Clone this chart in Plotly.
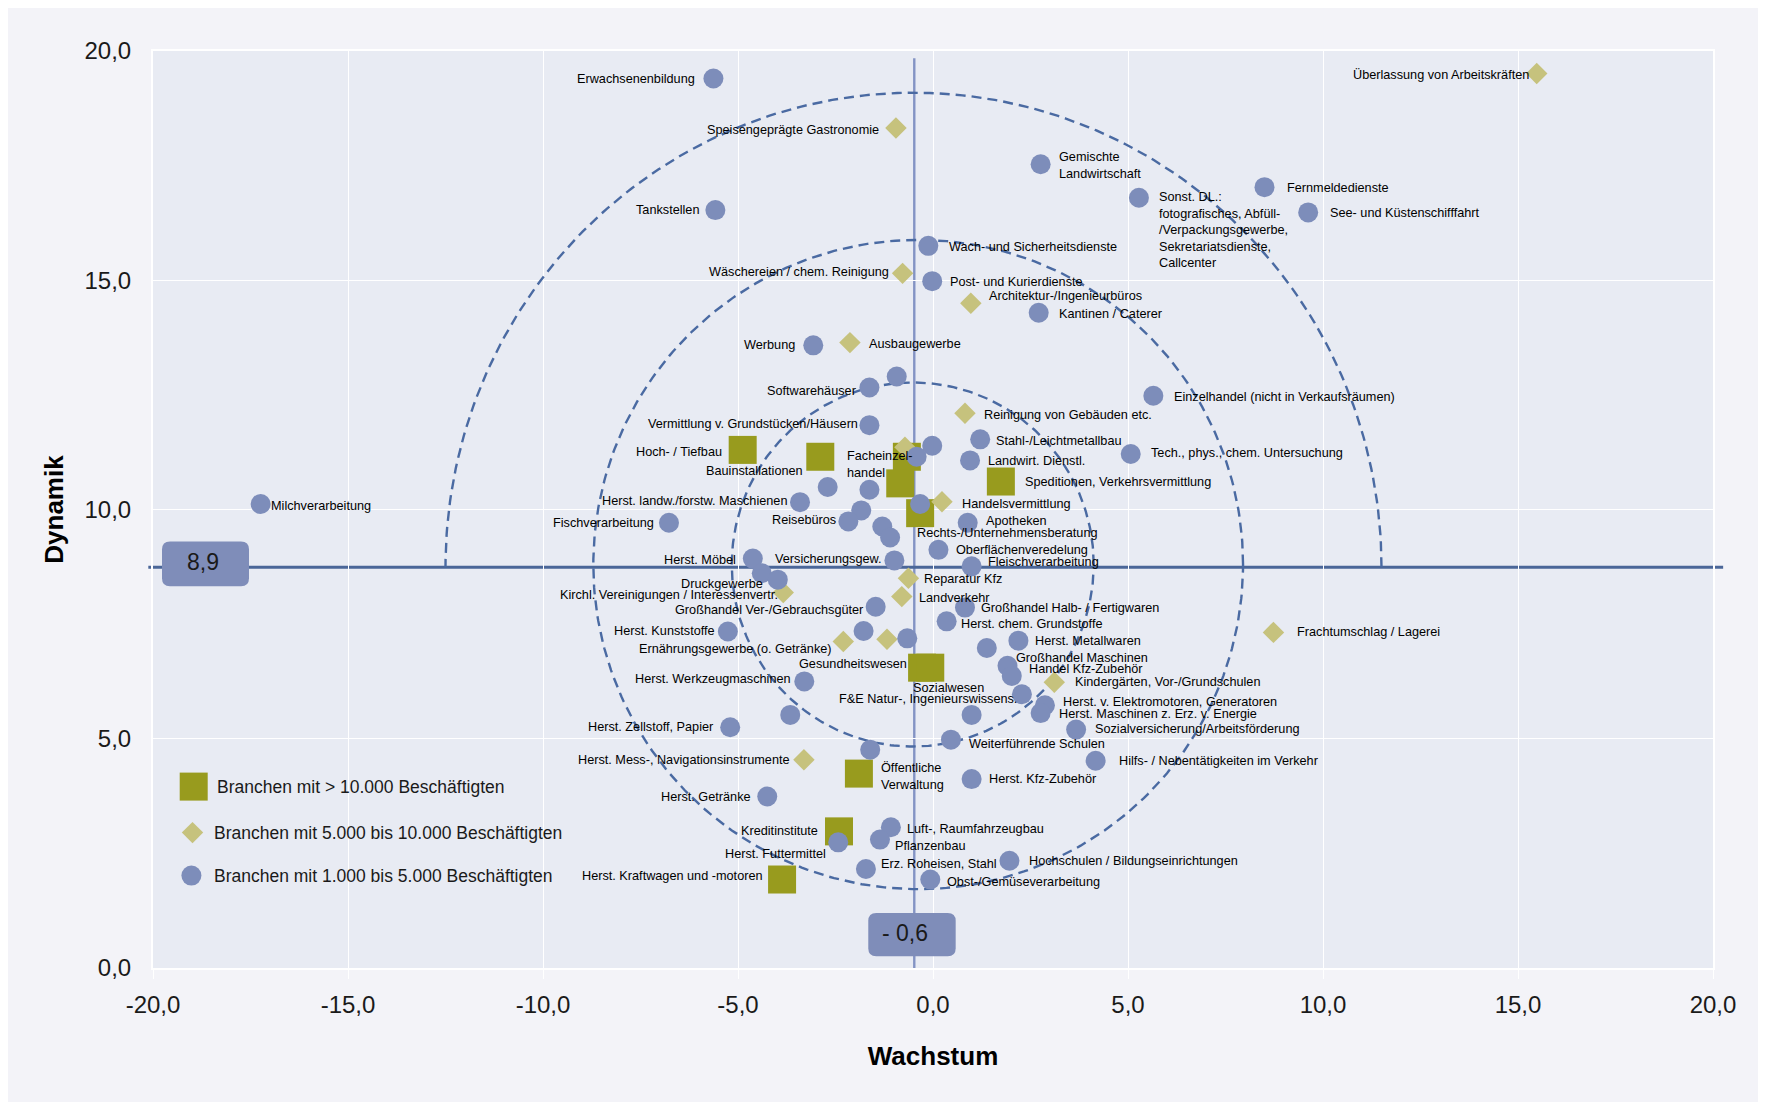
import numpy as np
import plotly.graph_objects as go

# ---------------- data ----------------
# Branchen mit > 10.000 Beschäftigten
sq_names = ["Hoch- / Tiefbau", "Bauinstallationen", "Facheinzel-\nhandel", "", "",
            "Speditionen, Verkehrsvermittlung", "Gesundheitswesen", "Sozialwesen",
            "Öffentliche\nVerwaltung", "Kreditinstitute", "Herst. Kraftwagen und -motoren"]
sq_x = [-4.88, -2.89, -0.67, -0.84, -0.33, 1.74, -0.28, -0.07, -1.90, -2.41, -3.87]
sq_y = [11.30, 11.15, 11.15, 10.57, 9.92, 10.61, 6.55, 6.55, 4.24, 2.98, 1.93]

# Branchen mit 5.000 bis 10.000 Beschäftigten
dm_names = ["Überlassung von Arbeitskräften", "Speisengeprägte Gastronomie",
            "Wäschereien / chem. Reinigung", "Architektur-/Ingenieurbüros", "Ausbaugewerbe",
            "Reinigung von Gebäuden etc.", "", "Handelsvermittlung", "Reparatur Kfz",
            "Kirchl. Vereinigungen / Interessenvertr.", "Landverkehr",
            "Ernährungsgewerbe (o. Getränke)", "", "Frachtumschlag / Lagerei",
            "Kindergärten, Vor-/Grundschulen", "Herst. Mess-, Navigationsinstrumente"]
dm_x = [15.48, -0.95, -0.78, 0.97, -2.13, 0.82, -0.72, 0.23, -0.63, -3.84, -0.80,
        -2.30, -1.18, 8.73, 3.11, -3.31]
dm_y = [19.51, 18.32, 15.15, 14.50, 13.64, 12.10, 11.36, 10.17, 8.50, 8.19, 8.10,
        7.12, 7.17, 7.32, 6.23, 4.54]

# Branchen mit 1.000 bis 5.000 Beschäftigten
ci_names = ["Erwachsenenbildung", "Tankstellen", "Gemischte\nLandwirtschaft",
            "Sonst. DL.:\nfotografisches, Abfüll-\n/Verpackungsgewerbe,\nSekretariatsdienste,\nCallcenter",
            "Fernmeldedienste", "See- und Küstenschifffahrt", "Wach- und Sicherheitsdienste",
            "Post- und Kurierdienste", "Kantinen / Caterer", "Werbung", "", "Softwarehäuser",
            "Einzelhandel (nicht in Verkaufsräumen)", "Vermittlung v. Grundstücken/Häusern",
            "Stahl-/Leichtmetallbau", "Landwirt. Dienstl.", "Tech., phys., chem. Untersuchung",
            "", "", "", "", "Herst. landw./forstw. Maschienen", "Milchverarbeitung", "", "",
            "Reisebüros", "Fischverarbeitung", "", "Rechts-/Unternehmensberatung", "Apotheken",
            "Oberflächenveredelung", "Fleischverarbeitung", "Versicherungsgew.", "Herst. Möbel",
            "", "Druckgewerbe", "Großhandel Ver-/Gebrauchsgüter", "Großhandel Halb- / Fertigwaren",
            "Herst. chem. Grundstoffe", "Herst. Kunststoffe", "", "", "Herst. Metallwaren", "",
            "Großhandel Maschinen", "Handel Kfz-Zubehör", "Herst. Werkzeugmaschinen",
            "F&E Natur-, Ingenieurswissens.", "Herst. v. Elektromotoren, Generatoren",
            "Herst. Maschinen z. Erz. v. Energie", "", "", "Herst. Zellstoff, Papier",
            "Sozialversicherung/Arbeitsförderung", "Weiterführende Schulen", "",
            "Hilfs- / Nebentätigkeiten im Verkehr", "Herst. Kfz-Zubehör", "Herst. Getränke",
            "Luft-, Raumfahrzeugbau", "Pflanzenbau", "Herst. Futtermittel", "Erz. Roheisen, Stahl",
            "Hochschulen / Bildungseinrichtungen", "Obst-/Gemüseverarbeitung"]
ci_x = [-5.63, -5.58, 2.76, 5.28, 8.50, 9.62, -0.12, -0.02, 2.71, -3.07, -0.93, -1.63,
        5.65, -1.63, 1.21, 0.95, 5.07, -0.02, -0.42, -2.70, -1.63, -3.41, -17.24, -0.33, -1.84,
        -2.17, -6.77, -1.30, -1.10, 0.89, 0.14, 0.99, -0.99, -4.62, -4.39, -3.98, -1.47, 0.82,
        0.35, -5.26, -1.78, -0.66, 2.19, 1.38, 1.91, 2.02, -3.30, 2.28, 2.87, 2.76, 0.99, -3.66,
        -5.20, 3.67, 0.46, -1.61, 4.17, 0.99, -4.25, -1.08, -1.36, -2.43, -1.72, 1.96, -0.07]
ci_y = [19.40, 16.53, 17.53, 16.80, 17.03, 16.48, 15.75, 14.98, 14.29, 13.58, 12.90, 12.66,
        12.48, 11.84, 11.53, 11.07, 11.21, 11.39, 11.15, 10.49, 10.43, 10.16, 10.12, 10.12, 9.98,
        9.74, 9.71, 9.63, 9.39, 9.71, 9.12, 8.76, 8.89, 8.93, 8.61, 8.47, 7.88, 7.86,
        7.56, 7.34, 7.35, 7.19, 7.14, 6.98, 6.59, 6.37, 6.25, 5.97, 5.73, 5.56, 5.52, 5.52,
        5.25, 5.20, 4.98, 4.76, 4.52, 4.12, 3.74, 3.07, 2.80, 2.74, 2.16, 2.34, 1.93]

legend_names = ["Branchen mit > 10.000 Beschäftigten",
                "Branchen mit 5.000 bis 10.000 Beschäftigten",
                "Branchen mit 1.000 bis 5.000 Beschäftigten"]

x_tick_vals = [-20, -15, -10, -5, 0, 5, 10, 15, 20]
x_tick_text = ["-20,0", "-15,0", "-10,0", "-5,0", "0,0", "5,0", "10,0", "15,0", "20,0"]
y_tick_vals = [0, 5, 10, 15, 20]
y_tick_text = ["0,0", "5,0", "10,0", "15,0", "20,0"]

# reference lines (averages) and their labels
ref_x, ref_x_label = -0.48, "- 0,6"
ref_y, ref_y_label = 8.74, "8,9"

# dashed ellipses around the average point: (centre x, centre y, radius x, radius y)
ell_inner = (-0.52, 8.8, 4.64, 3.97)
ell_middle = (-0.38, 8.8, 8.33, 7.08)
ell_outer = (-0.5, 8.74, 12.0, 10.35)   # upper half only

# ---------------- label placement (anchor, dx px, dy px) ----------------
label_pos = {
    "Hoch- / Tiefbau": ("right", -19, -1.7),
    "Bauinstallationen": ("right", -15, -14),
    "Facheinzel-\nhandel": ("left", -62, -7.5),
    "Speditionen, Verkehrsvermittlung": ("left", 22, 0),
    "Gesundheitswesen": ("right", -13, 3.4),
    "Sozialwesen": ("left", -19, -20.6),
    "Öffentliche\nVerwaltung": ("left", 20, -3),
    "Kreditinstitute": ("right", -19, 0),
    "Herst. Kraftwagen und -motoren": ("right", -17, 3.3),
    "Überlassung von Arbeitskräften": ("right", -6, -2),
    "Speisengeprägte Gastronomie": ("right", -15, -2),
    "Wäschereien / chem. Reinigung": ("right", -12, 1),
    "Architektur-/Ingenieurbüros": ("left", 16.6, 7.6),
    "Ausbaugewerbe": ("left", 16.7, -1.7),
    "Reinigung von Gebäuden etc.": ("left", 16.7, -1.3),
    "Handelsvermittlung": ("left", 18, -2.3),
    "Reparatur Kfz": ("left", 13.4, -0.7),
    "Kirchl. Vereinigungen / Interessenvertr.": ("right", -3, -2.7),
    "Landverkehr": ("left", 15.6, -1),
    "Ernährungsgewerbe (o. Getränke)": ("right", -9, -7.6),
    "Frachtumschlag / Lagerei": ("left", 21.7, 0),
    "Kindergärten, Vor-/Grundschulen": ("left", 19, 0),
    "Herst. Mess-, Navigationsinstrumente": ("right", -12.3, 0),
    "Erwachsenenbildung": ("right", -16.6, 0),
    "Tankstellen": ("right", -14.3, 0),
    "Gemischte\nLandwirtschaft": ("left", 16.6, -1.5),
    "Sonst. DL.:\nfotografisches, Abfüll-\n/Verpackungsgewerbe,\nSekretariatsdienste,\nCallcenter": ("left", 18.3, -32),
    "Fernmeldedienste": ("left", 20, -1.3),
    "See- und Küstenschifffahrt": ("left", 19.7, -1),
    "Wach- und Sicherheitsdienste": ("left", 18.3, -1.6),
    "Post- und Kurierdienste": ("left", 16, -1.3),
    "Kantinen / Caterer": ("left", 18, -0.7),
    "Werbung": ("right", -16.6, 0.7),
    "Softwarehäuser": ("right", -10, -3),
    "Einzelhandel (nicht in Verkaufsräumen)": ("left", 18.3, -1.7),
    "Vermittlung v. Grundstücken/Häusern": ("right", -9.3, 0.7),
    "Stahl-/Leichtmetallbau": ("left", 14.3, -1.7),
    "Landwirt. Dienstl.": ("left", 15.7, -1),
    "Tech., phys., chem. Untersuchung": ("left", 18.7, 0.7),
    "Herst. landw./forstw. Maschienen": ("right", -10.7, 0.7),
    "Milchverarbeitung": ("left", 8, -2.4),
    "Reisebüros": ("right", -10, 1),
    "Fischverarbeitung": ("right", -13, 0),
    "Rechts-/Unternehmensberatung": ("left", 25, 4),
    "Apotheken": ("left", 16.6, 2),
    "Oberflächenveredelung": ("left", 15.7, -0.5),
    "Fleischverarbeitung": ("left", 14.3, 4.4),
    "Versicherungsgew.": ("right", -10, 1.7),
    "Herst. Möbel": ("right", -14.4, -1.3),
    "Druckgewerbe": ("right", -12.7, -4),
    "Großhandel Ver-/Gebrauchsgüter": ("right", -9.7, -3.3),
    "Großhandel Halb- / Fertigwaren": ("left", 14.3, 0),
    "Herst. chem. Grundstoffe": ("left", 12.6, -2.6),
    "Herst. Kunststoffe": ("right", -10.4, 0),
    "Herst. Metallwaren": ("left", 15, 0),
    "Großhandel Maschinen": ("left", 6.7, 8.3),
    "Handel Kfz-Zubehör": ("left", 15.6, 6.7),
    "Herst. Werkzeugmaschinen": ("right", -11, 2.4),
    "F&E Natur-, Ingenieurswissens.": ("right", -3.4, -5),
    "Herst. v. Elektromotoren, Generatoren": ("left", 15.7, 3),
    "Herst. Maschinen z. Erz. v. Energie": ("left", 16.6, -1),
    "Herst. Zellstoff, Papier": ("right", -14, 0),
    "Sozialversicherung/Arbeitsförderung": ("left", 16.7, 0.7),
    "Weiterführende Schulen": ("left", 16, -4),
    "Hilfs- / Nebentätigkeiten im Verkehr": ("left", 21, 0),
    "Herst. Kfz-Zubehör": ("left", 15, 0),
    "Herst. Getränke": ("right", -14, -0.6),
    "Luft-, Raumfahrzeugbau": ("left", 14.3, -1.6),
    "Pflanzenbau": ("left", 13.3, -6.7),
    "Herst. Futtermittel": ("right", -10, -11.3),
    "Erz. Roheisen, Stahl": ("left", 13.3, 5),
    "Hochschulen / Bildungseinrichtungen": ("left", 17.4, 0),
    "Obst-/Gemüseverarbeitung": ("left", 15, -2.7),
}

# ---------------- styles ----------------
C_SQ, C_DM, C_CI = "#989B1E", "#C6C27D", "#7D8DBA"
C_ELL = "#4A6AA2"
C_HLINE, C_VLINE = "#4A6698", "#8393C4"
C_BOX = "#7F8DB9"
FONT = "Liberation Sans"
W, H = 1766, 1102
ML, MR, MT, MB = 145, 61, 43, 142

fig = go.Figure()

# dashed ellipses
t_full = np.linspace(0, 2 * np.pi, 361)
t_half = np.linspace(0, np.pi, 181)
for (cx, cy, rx, ry), tt in [(ell_outer, t_half), (ell_middle, t_full), (ell_inner, t_full)]:
    fig.add_trace(go.Scatter(x=cx + rx * np.cos(tt), y=cy + ry * np.sin(tt), mode="lines",
                             line=dict(color=C_ELL, width=2.4, dash="10px,6px"),
                             hoverinfo="skip", showlegend=False))

def hover(names):
    return [n.replace("\n", " ") for n in names]

fig.add_trace(go.Scatter(x=sq_x, y=sq_y, mode="markers", name=legend_names[0],
                         text=hover(sq_names), hoverinfo="text+x+y",
                         marker=dict(symbol="square", size=28, color=C_SQ, line=dict(width=0))))
fig.add_trace(go.Scatter(x=dm_x, y=dm_y, mode="markers", name=legend_names[1],
                         text=hover(dm_names), hoverinfo="text+x+y",
                         marker=dict(symbol="diamond", size=16.5, color=C_DM, line=dict(width=0))))
fig.add_trace(go.Scatter(x=ci_x, y=ci_y, mode="markers", name=legend_names[2],
                         text=hover(ci_names), hoverinfo="text+x+y",
                         marker=dict(symbol="circle", size=20, color=C_CI, line=dict(width=0))))

annotations = []
for names, xs, ys in [(sq_names, sq_x, sq_y), (dm_names, dm_x, dm_y), (ci_names, ci_x, ci_y)]:
    for n, x, y in zip(names, xs, ys):
        if not n:
            continue
        anchor, dx, dy = label_pos[n]
        annotations.append(dict(x=x, y=y, xref="x", yref="y", text=n.replace("\n", "<br>"),
                                showarrow=False, xanchor=anchor, yanchor="middle", align="left",
                                xshift=dx, yshift=dy,
                                font=dict(family=FONT, size=12.7, color="#000000")))

def rrect(x0, x1, y0, y1, r):
    return (f"M {x0 + r},{y0} L {x1 - r},{y0} Q {x1},{y0} {x1},{y0 + r} L {x1},{y1 - r} "
            f"Q {x1},{y1} {x1 - r},{y1} L {x0 + r},{y1} Q {x0},{y1} {x0},{y1 - r} "
            f"L {x0},{y0 + r} Q {x0},{y0} {x0 + r},{y0} Z")

shapes = [
    # average lines
    dict(type="line", xref="x", yref="paper", x0=ref_x, x1=ref_x, y0=0, y1=0.992,
         line=dict(color=C_VLINE, width=2.4), layer="below"),
    dict(type="line", xref="paper", yref="y", x0=-0.003, x1=1.0065, y0=ref_y, y1=ref_y,
         line=dict(color=C_HLINE, width=3), layer="below"),
    # value boxes
    dict(type="path", xref="paper", yref="y", xsizemode="pixel", ysizemode="pixel",
         xanchor=0, yanchor=ref_y, path=rrect(9, 96, -19, 25.7, 8),
         fillcolor=C_BOX, line=dict(width=0), layer="above"),
    dict(type="path", xref="x", yref="paper", xsizemode="pixel", ysizemode="pixel",
         xanchor=ref_x, yanchor=0, path=rrect(-46, 41.4, 11.7, 55.1, 8),
         fillcolor=C_BOX, line=dict(width=0), layer="above"),
    # legend keys
    dict(type="rect", xref="paper", yref="paper", xsizemode="pixel", ysizemode="pixel",
         xanchor=0, yanchor=0, x0=40.7 - 14, x1=40.7 + 14, y0=181.4 - 14, y1=181.4 + 14,
         fillcolor=C_SQ, line=dict(width=0), layer="above"),
    dict(type="path", xref="paper", yref="paper", xsizemode="pixel", ysizemode="pixel",
         xanchor=0, yanchor=0,
         path="M 39.5,146.1 L 50.2,135.4 L 39.5,124.7 L 28.8,135.4 Z",
         fillcolor=C_DM, line=dict(width=0), layer="above"),
    dict(type="circle", xref="paper", yref="paper", xsizemode="pixel", ysizemode="pixel",
         xanchor=0, yanchor=0, x0=38.4 - 10, x1=38.4 + 10, y0=92.4 - 10, y1=92.4 + 10,
         fillcolor=C_CI, line=dict(width=0), layer="above"),
]

annotations += [
    dict(xref="paper", yref="y", x=0, y=ref_y, xshift=50, yshift=5, text=ref_y_label,
         showarrow=False, xanchor="center", yanchor="middle",
         font=dict(family=FONT, size=23, color="#1A1A1A")),
    dict(xref="x", yref="paper", x=ref_x, y=0, xshift=-9, yshift=35, text=ref_x_label,
         showarrow=False, xanchor="center", yanchor="middle",
         font=dict(family=FONT, size=23, color="#1A1A1A")),
]
for i, (dx, dy) in enumerate([(61.6, 181.4), (59.4, 135.4), (59.4, 92.4)]):
    annotations.append(dict(xref="paper", yref="paper", x=0, y=0, xshift=dx, yshift=dy,
                            text=legend_names[i], showarrow=False, xanchor="left", yanchor="middle",
                            font=dict(family=FONT, size=17.5, color="#1A1A1A")))

axis_common = dict(showgrid=True, gridcolor="#FFFFFF", gridwidth=1.3, zeroline=False,
                   showline=True, linecolor="#FFFFFF", linewidth=2, mirror=True,
                   tickfont=dict(family=FONT, size=24, color="#1A1A1A"))

fig.update_layout(
    width=W, height=H, margin=dict(l=ML, r=MR, t=MT, b=MB),
    paper_bgcolor="#F3F3F8", plot_bgcolor="#E8EBF3",
    showlegend=False,
    xaxis=dict(range=[-20, 20], tickvals=x_tick_vals, ticktext=x_tick_text,
               ticks="outside", ticklen=9, tickcolor="#FFFFFF", tickwidth=1.3,
               ticklabelstandoff=5,
               title=dict(text="<b>Wachstum</b>", standoff=30,
                          font=dict(family=FONT, size=26, color="#000000")),
               **axis_common),
    yaxis=dict(range=[0, 20], tickvals=y_tick_vals, ticktext=y_tick_text,
               ticks="", ticklabelstandoff=15,
               title=dict(text="<b>Dynamik</b>", standoff=13,
                          font=dict(family=FONT, size=26, color="#000000")),
               **axis_common),
    shapes=shapes, annotations=annotations,
    font=dict(family=FONT),
)

fig.write_html("out.html")
